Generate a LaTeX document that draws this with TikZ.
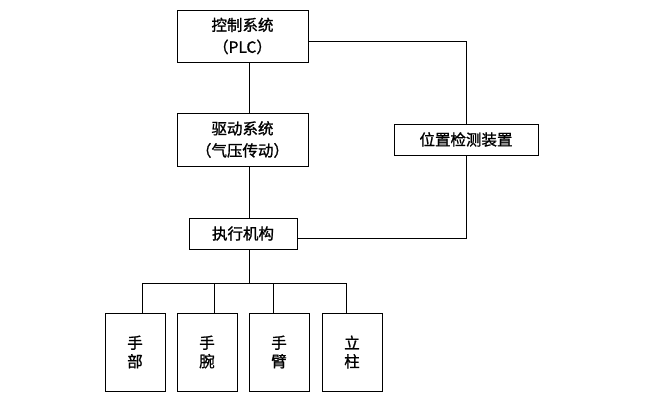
\documentclass[tikz,border=0pt]{standalone}
\usepackage{fontspec}
\newfontfamily\cjk[FakeBold=1.2]{Noto Sans CJK SC}
\usetikzlibrary{positioning}

\tikzset{
  block/.style={draw, thick, align=center, inner sep=0pt, font=\cjk\fontsize{15.5}{22}\selectfont},
  part/.style={block, minimum width=60pt, minimum height=78pt, font=\cjk\fontsize{15.5}{18.5}\selectfont},
  link/.style={thick}
}

\begin{document}
\begin{tikzpicture}[x=1pt, y=-1pt]
		  % frame of the picture
		    \useasboundingbox (0,0) rectangle (645,400);

		  % the blocks
		    \node[block, minimum width=131pt, minimum height=52pt] (ctrl) at (242.5,36) {控制系统\\（PLC）};
		    \node[block, minimum width=131pt, minimum height=53pt] (drive) at (242.5,139.5) {驱动系统\\（气压传动）};
		    \node[block, minimum width=144pt, minimum height=31pt] (pos) at (466,139.5) {位置检测装置};
		    \node[block, minimum width=108pt, minimum height=31pt] (exec) at (243,233.5) {执行机构};

		  % the parts
		    \foreach \x/\name/\txt in {135/hand/手\\部, 207/wrist/手\\腕, 279/arm/手\\臂, 352/column/立\\柱}
		      \node[part] (\name) at (\x,352) {\txt};

		  % the links
		    \coordinate (spine) at (249,0);
		    \coordinate (fbtop) at (466,41);
		    \coordinate (fbbot) at (466,238);
		    \coordinate (bus) at (0,283);
		    \draw[link] (ctrl.south -| spine) -- (drive.north -| spine);
		    \draw[link] (drive.south -| spine) -- (exec.north -| spine);
		    \draw[link] (ctrl.east |- fbtop) -- (fbtop) -- (pos.north);
		    \draw[link] (pos.south) -- (fbbot) -- (exec.east |- fbbot);
		    \draw[link] (exec.south -| spine) -- (spine |- bus);
		    \draw[link] (142,283) -- (346,283);
		    \foreach \x/\name in {142/hand, 214/wrist, 273/arm, 346/column}
		      \draw[link] (\x,283) -- (\name.north -| \x,0);
	  \end{tikzpicture}
\end{document}
